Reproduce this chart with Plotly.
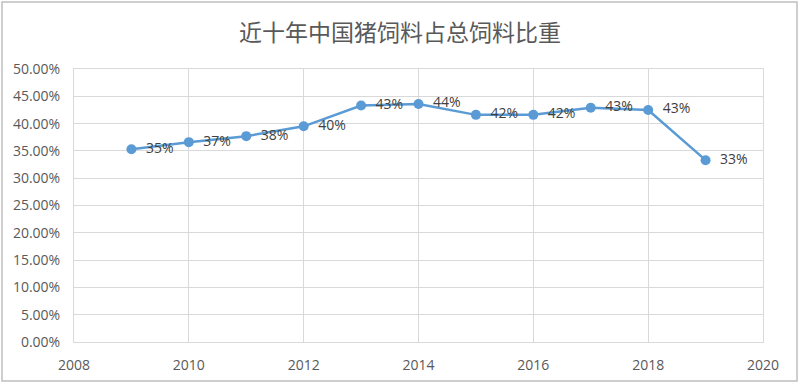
import plotly.graph_objects as go

years = [2009, 2010, 2011, 2012, 2013, 2014, 2015, 2016, 2017, 2018, 2019]
share = [0.353, 0.366, 0.377, 0.395, 0.433, 0.436, 0.416, 0.416, 0.429, 0.425, 0.333]
labels = ["35%", "37%", "38%", "40%", "43%", "44%", "42%", "42%", "43%", "43%", "33%"]
y_ticks = [i * 0.05 for i in range(11)]
y_tick_text = ["%.2f%%" % (v * 100) for v in y_ticks]
x_ticks = [2008, 2010, 2012, 2014, 2016, 2018, 2020]

FONT = "Open Sans, Noto Sans, DejaVu Sans, sans-serif"

fig = go.Figure()
fig.add_trace(go.Scatter(
    x=years, y=share, mode="lines+markers+text",
    text=["  " + t for t in labels], textposition="middle right",
    textfont=dict(family=FONT, size=14, color="#404040"),
    line=dict(color="#5B9BD5", width=2.5),
    marker=dict(color="#5B9BD5", size=10),
    cliponaxis=False, showlegend=False,
))

L, R, T, B = 74, 37, 69, 42
W, H = 800, 384
pw, ph = W - L - R, H - T - B
fig.update_layout(
    width=W, height=H,
    margin=dict(l=L, r=R, t=T, b=B, autoexpand=False),
    paper_bgcolor="white", plot_bgcolor="white",
    title=dict(text="近十年中国猪饲料占总饲料比重", x=0.5, xanchor="center",
               y=1 - 33 / H, yanchor="middle", yref="container",
               font=dict(family="Noto Sans CJK SC", size=23, color="#595959")),
    xaxis=dict(range=[2008, 2020], tickvals=x_ticks, showgrid=True, gridcolor="#D9D9D9", gridwidth=1,
               zeroline=False, showline=True, linecolor="#D9D9D9", mirror=True, automargin=False,
               ticks="outside", ticklen=10, tickcolor="rgba(0,0,0,0)",
               tickfont=dict(family=FONT, size=14, color="#595959")),
    yaxis=dict(range=[0, 0.5], tickvals=y_ticks, ticktext=y_tick_text, showgrid=True, gridcolor="#D9D9D9",
               gridwidth=1, zeroline=False, showline=True, linecolor="#D9D9D9", mirror=True, automargin=False,
               ticks="outside", ticklen=10, tickcolor="rgba(0,0,0,0)",
               tickfont=dict(family=FONT, size=14, color="#595959")),
    shapes=[dict(type="rect", xref="paper", yref="paper",
                 x0=(2 - L) / pw, x1=(797 - L) / pw, y0=(H - B - 381) / ph, y1=(H - B - 2) / ph,
                 line=dict(color="#BFBFBF", width=1.5), fillcolor="rgba(0,0,0,0)", layer="below")],
)
fig.write_html("out.html", config={"displayModeBar": False},
               post_script="document.body.style.margin='0';document.body.style.overflow='hidden';")
